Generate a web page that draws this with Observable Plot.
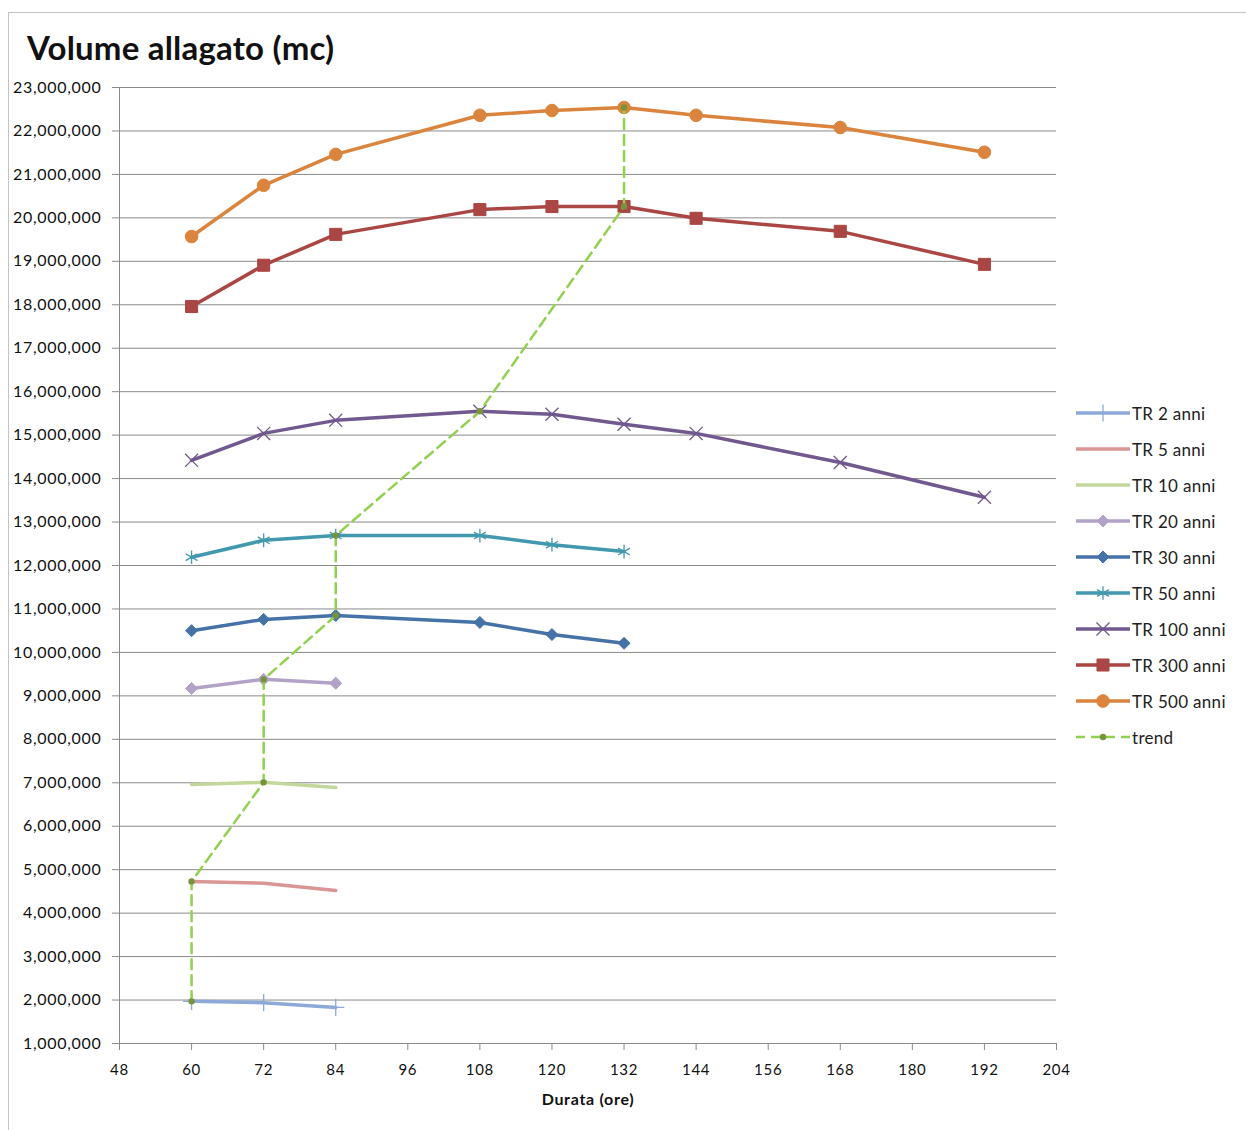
<!DOCTYPE html>
<html>
<head>
<meta charset="utf-8">
<script src="https://cdn.jsdelivr.net/npm/d3@7"></script>
<script src="https://cdn.jsdelivr.net/npm/@observablehq/plot@0.6"></script>
<style>
  body { margin: 0; background: #fff; font-family: Lato, "Open Sans", sans-serif; }
  #wrap { position: relative; width: 1246px; height: 1130px; overflow: hidden; }
  #frame { position: absolute; left: 8px; top: 12px; width: 1240px; height: 1120px;
           border-top: 1px solid #c4c4c4; border-left: 1px solid #c4c4c4; }
  #title { position: absolute; left: 27px; top: 27px; font-size: 33px; font-weight: bold; color: #111; letter-spacing: 0.2px; }
  #chart { position: absolute; left: 0; top: 0; }
  #legend { position: absolute; left: 1075px; top: 403px; }
  .row { display: flex; align-items: center; height: 20px; margin-bottom: 16px; font-size: 17px; letter-spacing: 0.3px; color: #222; }
  .row svg { margin-right: 1px; }
  #chart svg text { letter-spacing: 0.7px; }
</style>
</head>
<body>
<div id="wrap">
  <div id="frame"></div>
  <div id="chart"></div>
  <div id="title">Volume allagato (mc)</div>
  <div id="legend"></div>
</div>
<script>
const xShort = [60, 72, 84];
const xMid = [60, 72, 84, 108, 120, 132];
const xFull = [60, 72, 84, 108, 120, 132, 144, 168, 192];

const tr2 = [1970000, 1940000, 1830000];
const tr5 = [4730000, 4690000, 4520000];
const tr10 = [6960000, 7010000, 6890000];
const tr20 = [9170000, 9380000, 9290000];
const tr30 = [10500000, 10760000, 10850000, 10690000, 10410000, 10210000];
const tr50 = [12190000, 12580000, 12690000, 12690000, 12480000, 12320000];
const tr100 = [14420000, 15040000, 15340000, 15550000, 15480000, 15250000, 15040000, 14370000, 13570000];
const tr300 = [17960000, 18910000, 19620000, 20190000, 20260000, 20260000, 19990000, 19690000, 18930000];
const tr500 = [19570000, 20750000, 21460000, 22360000, 22470000, 22540000, 22360000, 22080000, 21510000];

const trendX = [60, 60, 72, 72, 84, 84, 108, 132, 132];
const trendY = [1970000, 4730000, 7010000, 9380000, 10850000, 12690000, 15550000, 20260000, 22540000];

const seriesNames = ["TR 2 anni", "TR 5 anni", "TR 10 anni", "TR 20 anni", "TR 30 anni", "TR 50 anni", "TR 100 anni", "TR 300 anni", "TR 500 anni"];
const xTicks = [48, 60, 72, 84, 96, 108, 120, 132, 144, 156, 168, 180, 192, 204];
const yTicks = d3.range(1000000, 23000001, 1000000);

const series = [
  {name: seriesNames[0], xs: xShort, ys: tr2, color: "#8DA9D8", symbol: "plus", r: 5.6, filled: false, d3sym: d3.symbolPlus},
  {name: seriesNames[1], xs: xShort, ys: tr5, color: "#D99694", symbol: null},
  {name: seriesNames[2], xs: xShort, ys: tr10, color: "#C3D69B", symbol: null},
  {name: seriesNames[3], xs: xShort, ys: tr20, color: "#B3A2C7", symbol: "diamond2", r: 5.4, filled: true, d3sym: d3.symbolDiamond2},
  {name: seriesNames[4], xs: xMid, ys: tr30, color: "#4572A7", symbol: "diamond2", r: 5.4, filled: true, d3sym: d3.symbolDiamond2},
  {name: seriesNames[5], xs: xMid, ys: tr50, color: "#4198AF", symbol: "asterisk", r: 6.5, filled: false, d3sym: d3.symbolAsterisk},
  {name: seriesNames[6], xs: xFull, ys: tr100, color: "#71588F", symbol: "times", r: 6, filled: false, d3sym: d3.symbolTimes},
  {name: seriesNames[7], xs: xFull, ys: tr300, color: "#AA4643", symbol: "square", r: 6.8, filled: true, d3sym: d3.symbolSquare},
  {name: seriesNames[8], xs: xFull, ys: tr500, color: "#DB843D", symbol: "circle", r: 6.3, filled: true, d3sym: d3.symbolCircle}
];
const trendColor = "#92D050";
const trendDot = "#77933C";

const marks = [
  Plot.ruleY(yTicks, {stroke: "#8a8a8a", strokeWidth: 1}),
  Plot.ruleX([48], {stroke: "#8a8a8a"}),
  Plot.axisY({ticks: yTicks, tickFormat: d3.format(","), tickSize: 7, tickPadding: 11, stroke: "#8a8a8a", label: null, fontSize: 16}),
  Plot.axisX({ticks: xTicks, tickSize: 7, tickPadding: 14, stroke: "#8a8a8a", label: null, fontSize: 15}),
  Plot.text(["Durata (ore)"], {frameAnchor: "bottom", dy: 61, fontWeight: "bold", fontSize: 16, fill: "#111"})
];

for (const s of series) {
  const rows = s.xs.map((x, i) => ({x, y: s.ys[i]}));
  marks.push(Plot.line(rows, {x: "x", y: "y", stroke: s.color, strokeWidth: 3.5, strokeLinejoin: "round", strokeLinecap: "round"}));
  if (s.symbol) {
    marks.push(Plot.dot(rows, {
      x: "x", y: "y", symbol: s.symbol, r: s.r,
      fill: s.filled ? s.color : "none",
      stroke: s.color, strokeWidth: s.filled ? 1 : 1.3
    }));
  }
}
const trendRows = trendX.map((x, i) => ({x, y: trendY[i]}));
marks.push(Plot.line(trendRows, {x: "x", y: "y", stroke: trendColor, strokeWidth: 2.5, strokeDasharray: "10,6"}));
marks.push(Plot.dot(trendRows, {x: "x", y: "y", r: 3.2, fill: trendDot, stroke: "none"}));

const chart = Plot.plot({
  width: 1246,
  height: 1130,
  marginLeft: 119,
  marginRight: 190,
  marginTop: 87,
  marginBottom: 87,
  style: {fontFamily: "Lato, 'Open Sans', sans-serif", fontSize: "15px", color: "#111", background: "transparent"},
  x: {domain: [48, 204], ticks: xTicks},
  y: {domain: [1000000, 23000000], ticks: yTicks},
  marks
});
document.getElementById("chart").appendChild(chart);

// legend
const legend = d3.select("#legend");
const legendItems = series.map(s => ({name: s.name, color: s.color, d3sym: s.d3sym, filled: s.filled, r: s.r, dashed: false}))
  .concat([{name: "trend", color: trendColor, d3sym: d3.symbolCircle, filled: true, r: 3.2, dashed: true, dotColor: trendDot}]);
for (const it of legendItems) {
  const row = legend.append("div").attr("class", "row");
  const svg = row.append("svg").attr("width", 56).attr("height", 20);
  svg.append("line").attr("x1", 1).attr("x2", 55).attr("y1", 10).attr("y2", 10)
    .attr("stroke", it.color).attr("stroke-width", it.dashed ? 2.5 : 3.5)
    .attr("stroke-dasharray", it.dashed ? "9,6" : null);
  if (it.d3sym) {
    svg.append("path").attr("transform", "translate(28,10)")
      .attr("d", d3.symbol(it.d3sym, it.r * it.r * Math.PI)())
      .attr("fill", it.filled ? (it.dotColor || it.color) : "none")
      .attr("stroke", it.dotColor ? "none" : it.color)
      .attr("stroke-width", it.filled ? 1 : 1.3);
  }
  row.append("span").text(it.name);
}
</script>
</body>
</html>
